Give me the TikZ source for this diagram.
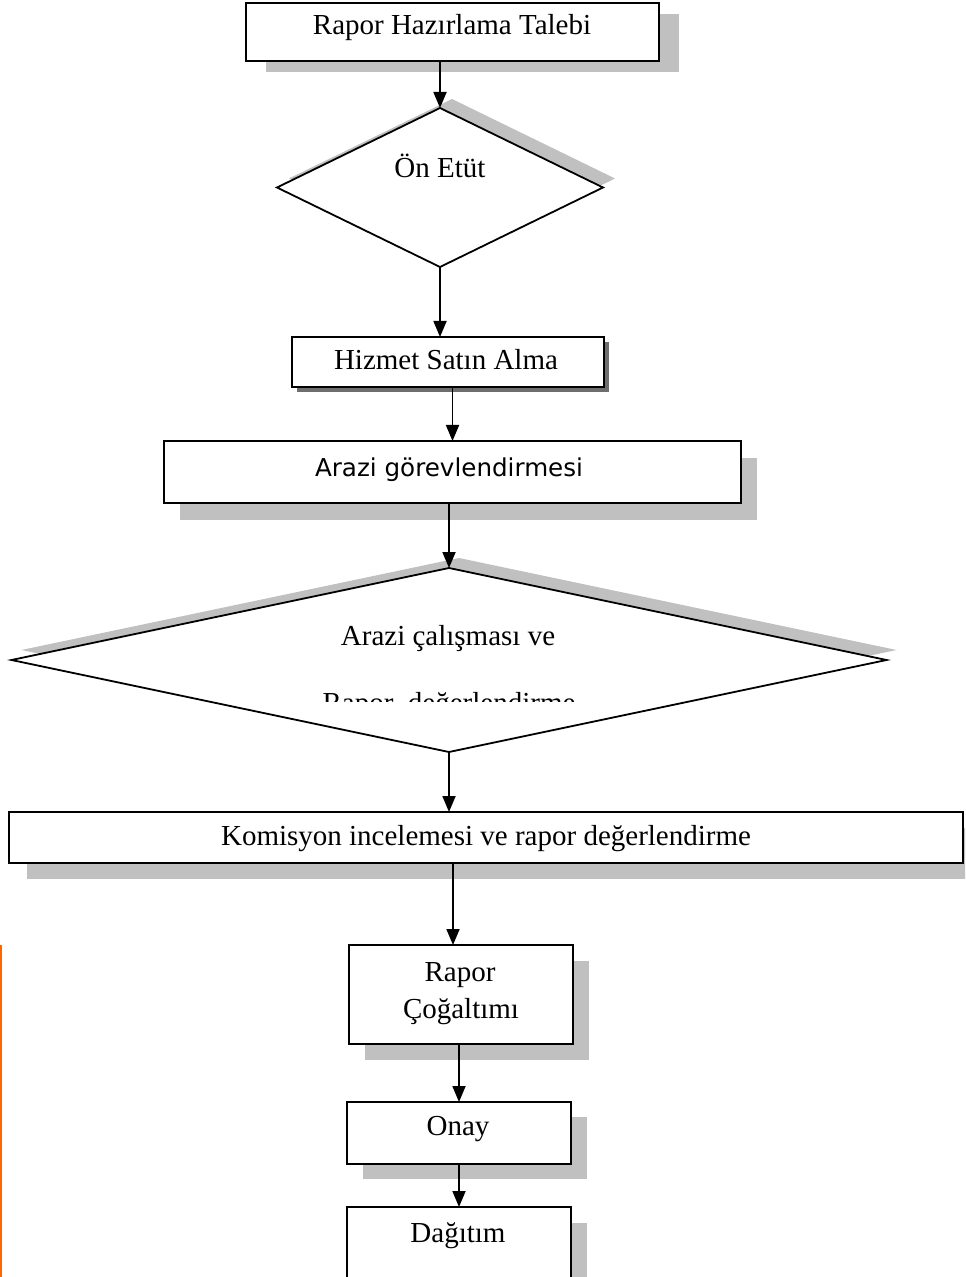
\documentclass[tikz,border=0pt]{standalone}
\usepackage{fontspec}
\setmainfont{Liberation Serif}
\newfontfamily\sansf{DejaVu Sans}
\usetikzlibrary{shapes.geometric,shadows,arrows.meta,calc}
\definecolor{shadowgray}{RGB}{192,192,192}
\definecolor{darkshadow}{RGB}{110,110,110}
\definecolor{edgeorange}{RGB}{255,102,0}
\begin{document}
\begin{tikzpicture}[x=0.5pt,y=-0.5pt,
  box/.style={draw=black, line width=0.9pt, fill=white, rectangle, inner sep=0pt, outer sep=0pt},
  dec/.style={draw=black, line width=0.9pt, fill=white, diamond, inner sep=0pt, outer sep=0pt},
  sh/.style 2 args={drop shadow={shadow xshift=#1, shadow yshift=#2, fill=shadowgray, opacity=1}},
  shd/.style 2 args={drop shadow={shadow xshift=#1, shadow yshift=#2, fill=darkshadow, opacity=1}},
  lbl/.style={font=\fontsize{14.5}{17}\selectfont, inner sep=0pt, anchor=base},
  arr/.style={line width=0.9pt, -{Triangle[length=8pt,width=6.5pt]}}]
\clip (0,0) rectangle (965,1277);
\fill[white] (0,0) rectangle (965,1277);
% shapes
\node[box, sh={10pt}{-5.5pt}, minimum width=206.5pt, minimum height=29pt] (b1) at (452.5,32) {};
\node[dec, sh={6pt}{4.5pt}, minimum width=163pt, minimum height=79.5pt] (d1) at (440,187.5) {};
\node[box, shd={2.5pt}{-2.5pt}, minimum width=156pt, minimum height=25pt] (b2) at (448,362) {};
\node[box, sh={8pt}{-8.5pt}, minimum width=288.5pt, minimum height=31pt] (b3) at (452.5,472) {};
\node[dec, sh={5pt}{5pt}, minimum width=437.5pt, minimum height=92pt] (d2) at (449,660) {};
\node[box, sh={9pt}{-8pt}, minimum width=477pt, minimum height=25.5pt] (b4) at (486,837.5) {};
\node[box, sh={8pt}{-8pt}, minimum width=112pt, minimum height=49.5pt] (b5) at (461,994.5) {};
\node[box, sh={8pt}{-7.5pt}, minimum width=112pt, minimum height=31pt] (b6) at (459,1133) {};
\node[box, sh={8pt}{-8pt}, minimum width=112pt, minimum height=46.5pt] (b7) at (459,1253.5) {};
% texts
\node[lbl] (t1) at (452,35) {Rapor Hazırlama Talebi};
\node[lbl] (t2) at (440,178) {Ön Etüt};
\node[lbl] (t3) at (446,370) {Hizmet Satın Alma};
\node[lbl, font=\sansf\fontsize{12.3}{15}\selectfont] (t4) at (449,477) {Arazi görevlendirmesi};
\node[lbl] (t5) at (448,645) {Arazi çalışması ve};
\begin{scope}
  \clip (0,600) rectangle (965,701);
  \node[lbl] (t6) at (449,712) {Rapor\ \ değerlendirme};
\end{scope}
\node[lbl] (t7) at (486,845) {Komisyon incelemesi ve rapor değerlendirme};
\node[lbl] (t8) at (460,981) {Rapor};
\node[lbl] (t9) at (461,1018) {Çoğaltımı};
\node[lbl] (t10) at (458,1135) {Onay};
\node[lbl] (t11) at (458,1242) {Dağıtım};
% connectors
\draw[arr] (d1.north |- b1.south) -- (d1.north);
\draw[arr] (d1.south) -- (d1.south |- b2.north);
\draw[arr] (b3.north |- b2.south) -- (b3.north);
\draw[arr] (d2.north |- b3.south) -- (d2.north);
\draw[arr] (d2.south) -- (d2.south |- b4.north);
\draw[arr] ($(b5.north |- b4.south)+(-8,0)$) -- ($(b5.north)+(-8,0)$);
\draw[arr] (b6.north |- b5.south) -- (b6.north);
\draw[arr] (b6.south) -- (b7.north);
% orange edge mark
\draw[edgeorange, line width=1pt] (1,945) -- (1,1277);
\end{tikzpicture}
\end{document}
